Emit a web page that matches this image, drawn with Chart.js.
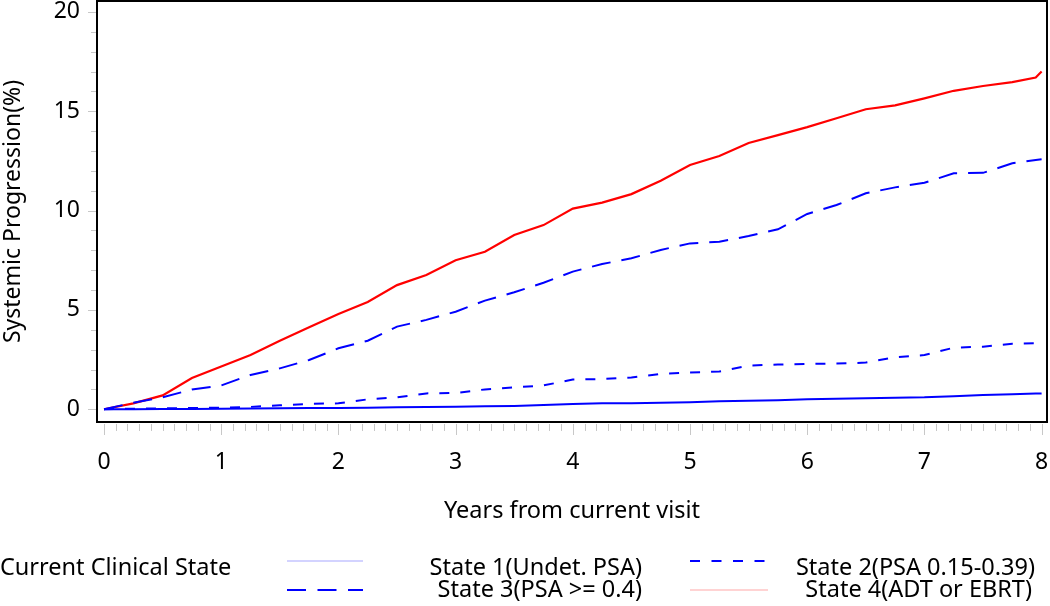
<!DOCTYPE html>
<html>
<head>
<meta charset="utf-8">
<script src="https://cdn.jsdelivr.net/npm/chart.js@4/dist/chart.umd.min.js"></script>
<style>
    body { margin: 0; background: #fff; font-family: "Noto Sans", sans-serif; }
    #wrap { position: relative; width: 1050px; height: 606px; }
    #progressionChart { position: absolute; left: 0; top: 0; }
    .lg { position: absolute; font-size: 23.5px; color: #000; line-height: 26px; white-space: nowrap; }
    .lg.right { text-align: right; }
    svg.sample { position: absolute; }
</style>
</head>
<body>
<div id="wrap">
    <canvas id="progressionChart" width="1050" height="606"></canvas>

    <div class="lg" style="left:0; top:553px;">Current Clinical State</div>

    <svg class="sample" style="left:287px; top:556px;" width="78" height="10">
        <line x1="0" y1="5" x2="76" y2="5" stroke="#c4c4ff" stroke-width="1.5"/>
    </svg>
    <div class="lg right" style="right:408px; top:553px;">State 1(Undet. PSA)</div>

    <svg class="sample" style="left:690px; top:556px;" width="80" height="10">
        <line x1="0" y1="5" x2="78" y2="5" stroke="#0000ff" stroke-width="2" stroke-dasharray="10 11.5"/>
    </svg>
    <div class="lg right" style="right:15px; top:553px;">State 2(PSA 0.15-0.39)</div>

    <svg class="sample" style="left:287px; top:585px;" width="78" height="10">
        <line x1="0" y1="5" x2="76" y2="5" stroke="#0000ff" stroke-width="2" stroke-dasharray="19 11.5"/>
    </svg>
    <div class="lg right" style="right:408px; top:575px;">State 3(PSA &gt;= 0.4)</div>

    <svg class="sample" style="left:690px; top:585px;" width="80" height="10">
        <line x1="0" y1="5" x2="78" y2="5" stroke="#ffc4c4" stroke-width="1.5"/>
    </svg>
    <div class="lg right" style="right:18px; top:575px;">State 4(ADT or EBRT)</div>
</div>

<script>
/* ------------------------------------------------------------
   DATA — cumulative systemic progression (%) by clinical state
------------------------------------------------------------- */
const years = [0, 0.25, 0.5, 0.75, 1, 1.25, 1.5, 1.75, 2, 2.25, 2.5, 2.75, 3, 3.25, 3.5, 3.75,
               4, 4.25, 4.5, 4.75, 5, 5.25, 5.5, 5.75, 6, 6.25, 6.5, 6.75, 7, 7.25, 7.5, 7.75, 7.95, 8];

const state1 = [0, 0, 0.01, 0.02, 0.03, 0.04, 0.05, 0.06, 0.07, 0.08, 0.1, 0.11, 0.13, 0.15, 0.17, 0.22,
                0.27, 0.3, 0.31, 0.33, 0.36, 0.4, 0.43, 0.46, 0.5, 0.53, 0.55, 0.58, 0.6, 0.66, 0.72, 0.76, 0.79, 0.8];

const state2 = [0, 0.03, 0.05, 0.06, 0.08, 0.12, 0.2, 0.27, 0.3, 0.5, 0.6, 0.8, 0.82, 1.0, 1.1, 1.2,
                1.5, 1.52, 1.6, 1.78, 1.85, 1.9, 2.2, 2.25, 2.28, 2.3, 2.35, 2.62, 2.73, 3.1, 3.15, 3.3, 3.32, 3.33];

const state3 = [0, 0.33, 0.6, 1.0, 1.2, 1.73, 2.06, 2.48, 3.07, 3.45, 4.16, 4.5, 4.91, 5.47, 5.89, 6.37,
                6.93, 7.31, 7.6, 8.02, 8.35, 8.43, 8.72, 9.06, 9.83, 10.28, 10.87, 11.17, 11.4, 11.88, 11.9, 12.38, 12.55, 12.58];

const state4 = [0, 0.3, 0.7, 1.57, 2.15, 2.73, 3.45, 4.13, 4.8, 5.4, 6.25, 6.76, 7.5, 7.93, 8.77, 9.27,
                10.1, 10.4, 10.83, 11.5, 12.3, 12.75, 13.4, 13.8, 14.2, 14.65, 15.1, 15.3, 15.65, 16.03, 16.27, 16.47, 16.7, 17.0];

const xTickLabels = [0, 1, 2, 3, 4, 5, 6, 7, 8];
const yTickLabels = [0, 5, 10, 15, 20];

const toPoints = values => values.map((v, i) => ({ x: years[i], y: v }));


/* ------------------------------------------------------------
   PLUGIN — frame + minor/major tick marks outside the box
------------------------------------------------------------- */
const frameAndTicks = {
    id: "frameAndTicks",
    afterDraw(chart) {
        const { ctx, chartArea: a, scales: { x, y } } = chart;
        ctx.save();

        // tick marks
        ctx.strokeStyle = "#c8c8c8";
        ctx.lineWidth = 1;
        ctx.beginPath();
        for (let i = 0; i <= 80; i++) {
            const px = Math.round(x.getPixelForValue(i / 10)) + 0.5;
            const len = i % 10 === 0 ? 11 : 7;
            ctx.moveTo(px, a.bottom + 2);
            ctx.lineTo(px, a.bottom + 2 + len);
        }
        for (let j = 0; j <= 20; j++) {
            const py = Math.round(y.getPixelForValue(j)) + 0.5;
            const len = j % 5 === 0 ? 8 : 5;
            ctx.moveTo(a.left - 1, py);
            ctx.lineTo(a.left - 1 - len, py);
        }
        ctx.stroke();

        // box
        ctx.strokeStyle = "#000";
        ctx.lineWidth = 2;
        ctx.strokeRect(a.left, a.top, a.right - a.left, a.bottom - a.top);
        ctx.restore();
    }
};


/* ------------------------------------------------------------
   CHART
------------------------------------------------------------- */
const canvas = document.querySelector("#progressionChart");

new Chart(canvas, {
    type: "line",
    data: {
        datasets: [
            {
                label: "State 1(Undet. PSA)",
                data: toPoints(state1),
                borderColor: "#0000ff",
                borderWidth: 2
            },
            {
                label: "State 2(PSA 0.15-0.39)",
                data: toPoints(state2),
                borderColor: "#0000ff",
                borderWidth: 2,
                borderDash: [10, 11]
            },
            {
                label: "State 3(PSA >= 0.4)",
                data: toPoints(state3),
                borderColor: "#0000ff",
                borderWidth: 2,
                borderDash: [19, 11]
            },
            {
                label: "State 4(ADT or EBRT)",
                data: toPoints(state4),
                borderColor: "#ff0000",
                borderWidth: 2.2
            }
        ]
    },
    options: {
        responsive: false,
        animation: false,
        elements: { point: { radius: 0 }, line: { tension: 0 } },
        layout: { padding: { top: 1, right: 3, left: 0, bottom: 0 } },
        plugins: {
            legend: { display: false },
            tooltip: { enabled: false }
        },
        scales: {
            x: {
                type: "linear",
                min: -0.06,
                max: 8.046,
                grid: { display: false, drawTicks: false },
                border: { display: false },
                afterBuildTicks: scale => { scale.ticks = xTickLabels.map(v => ({ value: v })); },
                afterFit: scale => {
                    scale.height = 184;
                    scale.paddingLeft = 0;
                    scale.paddingRight = 0;
                },
                ticks: {
                    padding: 27,
                    color: "#000",
                    font: { family: "Noto Sans", size: 23 },
                    maxRotation: 0,
                    callback: v => String(v)
                },
                title: {
                    display: true,
                    text: "Years from current visit",
                    color: "#000",
                    font: { family: "Noto Sans", size: 23.5 },
                    padding: { top: 0, bottom: 81 }
                }
            },
            y: {
                min: -0.64,
                max: 20.55,
                grid: { display: false, drawTicks: false },
                border: { display: false },
                afterBuildTicks: scale => { scale.ticks = yTickLabels.map(v => ({ value: v })); },
                afterFit: scale => {
                    scale.width = 97;
                    scale.paddingTop = 0;
                    scale.paddingBottom = 0;
                },
                ticks: {
                    padding: 17,
                    color: "#000",
                    font: { family: "Noto Sans", size: 23 },
                    callback: v => String(v)
                },
                title: {
                    display: true,
                    text: "Systemic Progression(%)",
                    color: "#000",
                    font: { family: "Noto Sans", size: 23 },
                    padding: { top: 0, bottom: 0 }
                }
            }
        }
    },
    plugins: [frameAndTicks]
});
</script>
</body>
</html>
